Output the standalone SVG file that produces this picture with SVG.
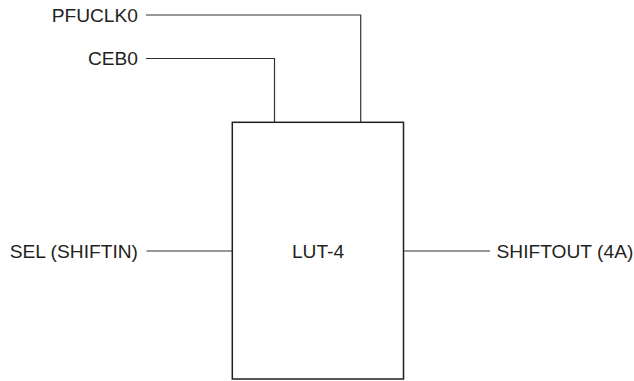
<svg xmlns="http://www.w3.org/2000/svg" width="634" height="381" viewBox="0 0 634 381">
<style>
.lbl{font-family:"Liberation Sans",Arial,Helvetica,sans-serif;font-size:19.2px;fill:#231f20}
.wire{fill:none;stroke:#333;stroke-width:1.2}
.box{fill:#fff;stroke:#231f20;stroke-width:1.5}
</style>
<rect width="634" height="381" fill="#fff"/>
<g id="connectors">
<polyline class="wire" points="146,15 360.7,15 360.7,122"/>
<polyline class="wire" points="146,58.5 274.5,58.5 274.5,122"/>
<line class="wire" x1="146.5" y1="251" x2="232" y2="251"/>
<line class="wire" x1="403.5" y1="251" x2="490" y2="251"/>
</g>
<g id="lut4">
<rect class="box" x="232.3" y="122.3" width="171.2" height="256.7"/>
<text class="lbl" x="318" y="257.8" text-anchor="middle">LUT-4</text>
</g>
<g id="pfuclk0"><text class="lbl" x="138" y="21.8" text-anchor="end">PFUCLK0</text></g>
<g id="ceb0"><text class="lbl" x="138" y="65.3" text-anchor="end">CEB0</text></g>
<g id="sel"><text class="lbl" x="138" y="257.8" text-anchor="end">SEL (SHIFTIN)</text></g>
<g id="shiftout"><text class="lbl" x="496.5" y="257.8">SHIFTOUT (4A)</text></g>
</svg>
